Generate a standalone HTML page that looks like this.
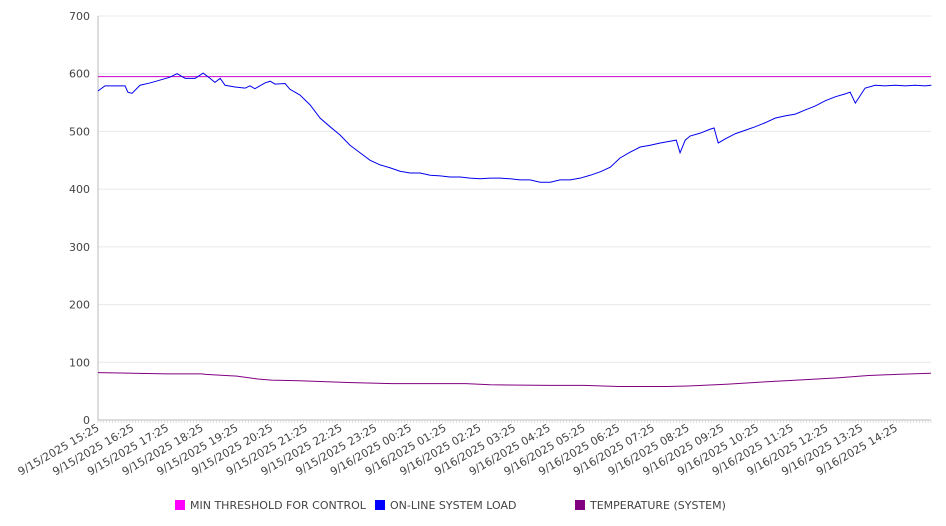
<!DOCTYPE html>
<html><head><meta charset="utf-8"><style>
body{margin:0;background:#fff}
svg{display:block;font-family:"DejaVu Sans","Liberation Sans",sans-serif}
</style></head><body>
<svg id="chart" width="946" height="526"></svg>
<script>
const loadHours=[];const loadPx=[98,105,115,125,128,132,140,150,160,170,177,185,195,203,210,215,220,225,235,245,250,255,265,270,275,285,290,300,310,320,330,340,350,360,370,380,390,400,410,420,430,440,450,460,470,480,490,500,510,520,530,540,550,560,570,580,590,600,610,620,630,640,650,660,670,676,680,685,690,700,710,714,718,725,735,745,755,765,775,785,795,805,815,825,835,845,850,855,860,865,875,885,895,905,915,925,931];
const loadValues=[570,579,579,579,568,566,580,584,589,594,600,592,592,601,592,585,592,580,577,575,579,574,584,587,582,583,573,563,546,523,508,494,476,463,450,442,437,431,428,428,424,423,421,421,419,418,419,419,418,416,416,412,412,416,416,419,424,430,438,454,464,473,476,480,483,485,463,485,492,497,504,506,480,487,496,502,508,515,523,527,530,537,544,553,560,565,568,549,562,575,580,579,580,579,580,579,580];
for(const p of loadPx) loadHours.push(+((p-98)/34.7).toFixed(2));
const tempHours=[0,1,2,3,3.1,4,4.6,5,5.8,7.2,8.5,10.6,11.3,13,14,15,16.4,17,18.1,19.2,20.4,21.3,22.2,23,24];
const tempValues=[82,81,80,80,79,76,71,69,68,65,63,63,61,60,60,58,58,59,62,66,70,73,77,79,81];
const thresholdValue=595;
const yTicks=[0,100,200,300,400,500,600,700];
const xTickLabels=["9/15/2025 15:25","9/15/2025 16:25","9/15/2025 17:25","9/15/2025 18:25","9/15/2025 19:25","9/15/2025 20:25","9/15/2025 21:25","9/15/2025 22:25","9/15/2025 23:25","9/16/2025 00:25","9/16/2025 01:25","9/16/2025 02:25","9/16/2025 03:25","9/16/2025 04:25","9/16/2025 05:25","9/16/2025 06:25","9/16/2025 07:25","9/16/2025 08:25","9/16/2025 09:25","9/16/2025 10:25","9/16/2025 11:25","9/16/2025 12:25","9/16/2025 13:25","9/16/2025 14:25"];

const svg=document.getElementById('chart');const NS='http://www.w3.org/2000/svg';
const X0=98,X1=931,Y0=420,Y1=16,HMAX=24;
const xs=h=>X0+h/HMAX*(X1-X0);
const ys=v=>Y0-v/700*(Y0-Y1);
function mk(t,a){const e=document.createElementNS(NS,t);for(const k in a)e.setAttribute(k,a[k]);svg.appendChild(e);return e;}
for(const v of yTicks){
 const g=mk('line',{x1:X0,x2:X1,y1:ys(v),y2:ys(v),stroke:'#e8e8e8'});
 
 
 const t=mk('text',{x:90,y:ys(v)+4,'text-anchor':'end','font-size':11,fill:'#444'});t.textContent=v;
 
 
}
const ax=mk('line',{x1:X0,x2:X0,y1:Y1,y2:Y0,stroke:'#bbb'});


const bx=mk('line',{x1:X0,x2:X1,y1:Y0,y2:Y0,stroke:'#bbb'});


let d='';for(let i=0;i<=288;i++){const x=xs(i/12);d+=`M${x},${Y0}v3`;}
const tk=mk('path',{d:d,stroke:'#ccc','stroke-width':0.6});


xTickLabels.forEach((s,i)=>{const x=xs(i)+2,y=Y0+10;
 const t=mk('text',{x:x,y:y,'text-anchor':'end','font-size':11,fill:'#444',transform:`rotate(-30 ${x} ${y})`});t.textContent=s;
 
 
});
const th=mk('line',{x1:X0,x2:X1,y1:ys(thresholdValue),y2:ys(thresholdValue),stroke:'#cc00cc','stroke-width':1});


function line(hs,vs,c,n){const p=mk('polyline',{points:hs.map((h,i)=>xs(h)+','+ys(vs[i])).join(' '),fill:'none',stroke:c,'stroke-width':1});
 
 }
line(loadHours,loadValues,'#0000ee','online-system-load-line');
line(tempHours,tempValues,'#800080','temperature-line');
const leg=[['MIN THRESHOLD FOR CONTROL','#ff00ff',175],['ON-LINE SYSTEM LOAD','#0000ff',375],['TEMPERATURE (SYSTEM)','#800080',575]];
for(const [s,c,x] of leg){
 const r=mk('rect',{x:x,y:500,width:10,height:10,fill:c});
 
 
 const t=mk('text',{x:x+15,y:509,'font-size':11,fill:'#444'});t.textContent=s;
 
 
}
</script>
</body></html>
